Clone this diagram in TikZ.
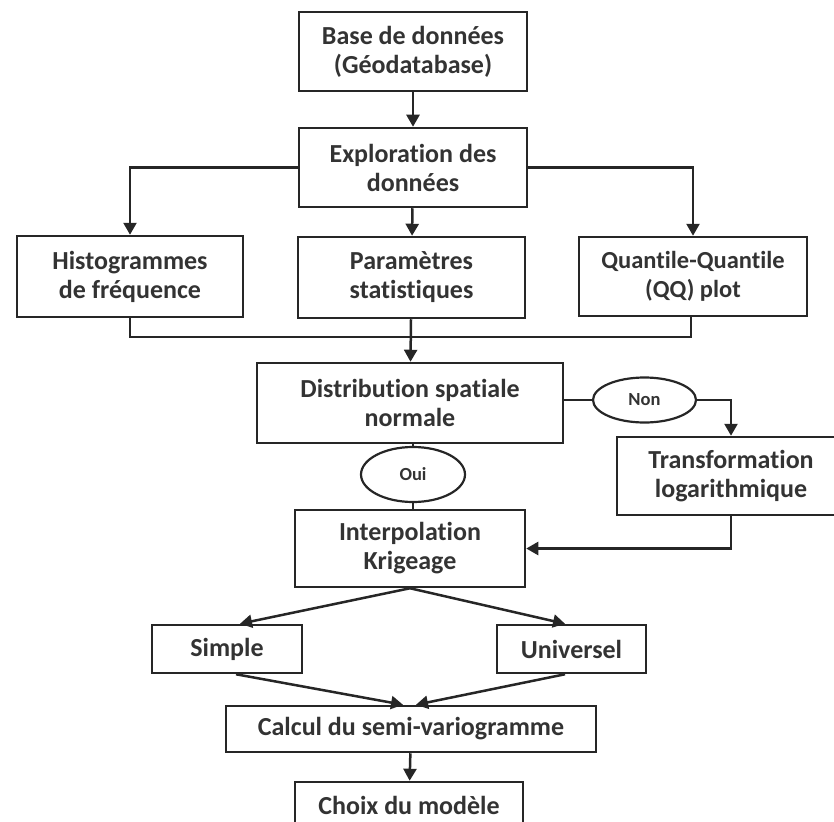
\documentclass[tikz,border=0pt]{standalone}
\usepackage{fontspec}
\setmainfont{Carlito}[Ligatures={NoCommon}]
\usetikzlibrary{arrows.meta,shapes.geometric}
\definecolor{ink}{HTML}{262626}
\definecolor{txt}{HTML}{333333}
\tikzset{
  box/.style={draw=ink, line width=2.5pt, rectangle, align=center, inner sep=0pt,
    text=txt, font=\fontsize{26}{29}\selectfont\bfseries},
  oval/.style={draw=ink, line width=2.2pt, ellipse, inner sep=0pt, text=txt,
    font=\fontsize{18.5}{20}\selectfont\bfseries},
  conn/.style={draw=ink, line width=2.5pt},
  arr/.style={conn, -{Triangle[length=12pt,width=13pt]}},
}
\begin{document}
\begin{tikzpicture}[x=1pt,y=-1pt]
\useasboundingbox (0,0) rectangle (834,821);
\node[box, minimum width=228pt, minimum height=79pt] (base) at (413,51.5) {Base de données\\(Géodatabase)};
\node[box, minimum width=228pt, minimum height=79pt] (explo) at (413,167.5) {Exploration des\\données};
\node[box, minimum width=226pt, minimum height=81pt] (histo) at (130,276.5) {Histogrammes\\de fréquence};
\node[box, minimum width=227pt, minimum height=81pt] (param) at (411.5,277.5) {Paramètres\\statistiques};
\node[box, minimum width=228pt, minimum height=79pt, font=\fontsize{24.5}{29}\selectfont\bfseries] (qq) at (693,276.5) {Quantile-Quantile\\(QQ) plot};
\node[box, minimum width=306pt, minimum height=80pt] (distrib) at (410,403) {Distribution spatiale\\normale};
\node[oval, minimum width=103pt, minimum height=45pt] (non) at (644.5,400) {Non};
\node[box, minimum width=228pt, minimum height=78pt] (trans) at (731,476) {Transformation\\logarithmique};
\node[oval, minimum width=104pt, minimum height=55pt] (oui) at (413,474.5) {Oui};
\node[box, minimum width=230pt, minimum height=77pt] (interp) at (410,548.5) {Interpolation\\Krigeage};
\node[box, minimum width=150pt, minimum height=48pt] (simple) at (227,649) {Simple};
\node[box, minimum width=149pt, minimum height=48pt] (univ) at (571.5,649) {Universel};
\node[box, minimum width=370pt, minimum height=46pt] (calcul) at (411,729) {Calcul du semi-variogramme};
\node[box, minimum width=228pt, minimum height=46pt] (choix) at (409,805) {Choix du modèle};

\draw[arr] (base) -- (explo);
\draw[arr] (explo.west) -| (histo.north);
\draw[arr] (explo.east) -| (qq.north);
\draw[arr] (explo) -- (param);
\coordinate (mergeL) at (130,337);
\coordinate (mergeR) at (691,337);
\draw[conn] (histo.south) -- (mergeL) -- (mergeR) -- (mergeR |- qq.south);
\draw[arr] (param) -- (distrib);
\draw[conn] (distrib.east |- non.west) -- (non.west);
\draw[arr] (non.east) -| (trans.north);
\draw[conn] (oui.north) -- (oui.north |- distrib.south);
\draw[conn] (oui.south) -- (oui.south |- interp.north);
\draw[arr] (trans.south) |- (interp.east);
\draw[arr] (interp.south) -- ([xshift=13pt]simple.north);
\draw[arr] (interp.south) -- ([xshift=-6.5pt]univ.north);
\draw[arr] ([xshift=9pt]simple.south) -- ([xshift=-8pt]calcul.north);
\draw[arr] ([xshift=-6.5pt]univ.south) -- ([xshift=5pt]calcul.north);
\draw[arr] (calcul) -- (choix);
\end{tikzpicture}
\end{document}
